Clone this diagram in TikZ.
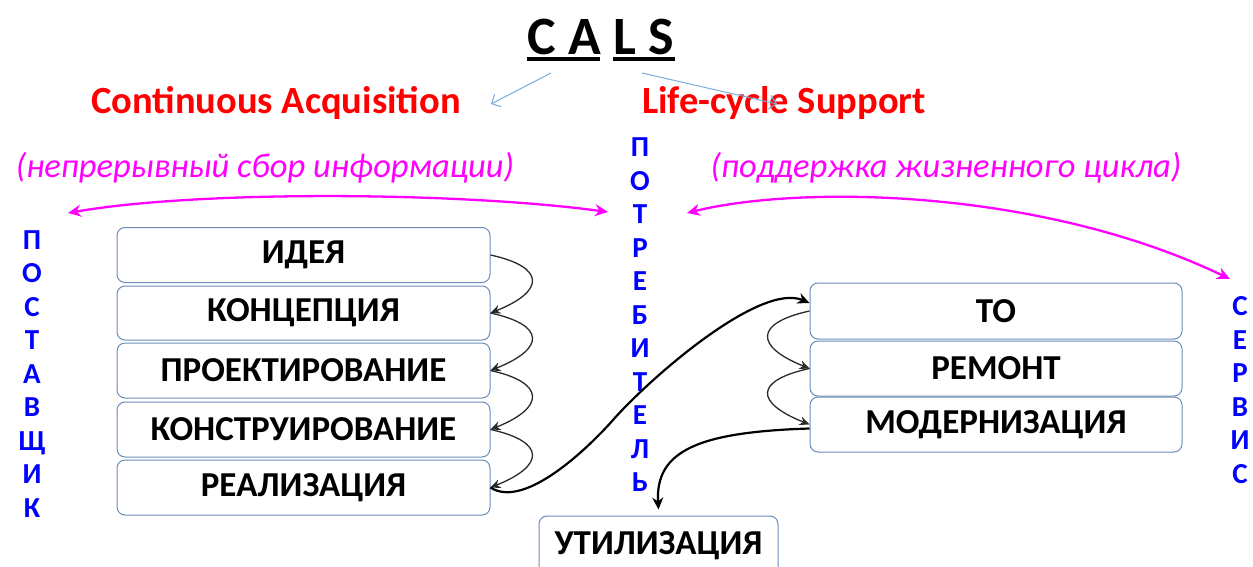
\documentclass[tikz,border=0pt]{standalone}
\usepackage{fontspec}
\setmainfont{Carlito}
\usetikzlibrary{arrows.meta}
\definecolor{boxblue}{HTML}{6A8CB8}
\definecolor{lightarrow}{HTML}{7AAADC}
\definecolor{mag}{HTML}{FF00FF}
\definecolor{vblue}{HTML}{0000FF}
\definecolor{tred}{HTML}{FF0000}
\definecolor{arrgray}{HTML}{2A2A2A}
\begin{document}
\begin{tikzpicture}[x=1pt,y=-1pt,
  stagebox/.style={draw=boxblue, line width=1pt, rounded corners=8pt, fill=white,
    minimum width=373pt, minimum height=55pt, inner sep=0pt,
    font=\fontsize{35}{37}\selectfont\bfseries},
  vword/.style={text=vblue, align=center, inner sep=0pt,
    font=\fontsize{29}{33.5}\selectfont\bfseries},
  title/.style={text=tred, inner sep=0pt, font=\fontsize{38.5}{40}\selectfont\bfseries},
  sub/.style={text=mag, inner sep=0pt, font=\fontsize{34.5}{36}\selectfont\itshape},
  steparr/.style={draw=arrgray, line width=1.3pt, -{Stealth[length=10pt,width=9pt]}},
  bigarr/.style={draw=black, line width=2.2pt, -{Stealth[length=12pt,width=11pt]}},
  magarr/.style={draw=mag, line width=2.3pt, {Stealth[length=13pt,width=12pt]}-{Stealth[length=13pt,width=12pt]}},
  blarr/.style={draw=lightarrow, line width=1pt, -{Straight Barb[length=7pt,width=14pt]}}
]
\useasboundingbox (0,0) rectangle (1253,567);

% title
\node[inner sep=0pt, font=\fontsize{54}{56}\selectfont\bfseries] (cals) at (601,37) {C A L S};
\draw[line width=4pt] (527,59) -- (600,59);
\draw[line width=4pt] (613,59) -- (675,59);
\coordinate (ca) at (551,73);
\coordinate (ls) at (642,73);

\node[title] (ca-t) at (276,103) {Continuous Acquisition};
\node[title] (ls-t) at (784,103) {Life-cycle Support};
\draw[blarr] (ca) -- (491,104);
\draw[blarr] (ls) -- (777,104);

\node[sub] (sub1) at (265,168) {(непрерывный сбор информации)};
\node[sub] (sub2) at (946,168) {(поддержка жизненного цикла)};

% magenta arrows
\coordinate (m1a) at (68,213);
\coordinate (m1b) at (608,212);
\coordinate (m2a) at (687,213);
\coordinate (m2b) at (1230,279);
\draw[magarr] (m1a) .. controls (200,190) and (460,192) .. (m1b);
\draw[magarr] (m2a) .. controls (800,185) and (1040,188) .. (m2b);

% vertical words
\node[vword] (post) at (32,374) {П\\О\\С\\Т\\А\\В\\Щ\\И\\К};
\node[vword] (potr) at (640,315) {П\\О\\Т\\Р\\Е\\Б\\И\\Т\\Е\\Л\\Ь};
\node[vword] (serv) at (1240,390) {С\\Е\\Р\\В\\И\\С};

% left stages
\node[stagebox] (idea) at (303.5,255) {ИДЕЯ};
\node[stagebox, minimum height=54pt] (konc) at (303.5,313) {КОНЦЕПЦИЯ};
\node[stagebox] (proekt) at (303.5,370.5) {ПРОЕКТИРОВАНИЕ};
\node[stagebox] (konstr) at (303.5,429.5) {КОНСТРУИРОВАНИЕ};
\node[stagebox] (real) at (303.5,487.5) {РЕАЛИЗАЦИЯ};

% right stages
\node[stagebox, minimum width=372pt, minimum height=56pt] (to) at (996,311) {ТО};
\node[stagebox, minimum width=372pt] (remont) at (996,368.5) {РЕМОНТ};
\node[stagebox, minimum width=372pt] (modern) at (996,424.5) {МОДЕРНИЗАЦИЯ};

% utilisation
\node[stagebox, minimum width=239pt, minimum height=60pt] (util) at (658.5,546) {УТИЛИЗАЦИЯ};

% step arrows left
\draw[steparr] (idea.east) .. controls +(55,12) and +(55,-22) .. (konc.east);
\draw[steparr] (konc.east) .. controls +(55,12) and +(55,-22) .. (proekt.east);
\draw[steparr] (proekt.east) .. controls +(55,12) and +(55,-22) .. (konstr.east);
\draw[steparr] (konstr.east) .. controls +(55,12) and +(55,-22) .. (real.east);

% step arrows right
\draw[steparr] (to.west) .. controls +(-55,12) and +(-55,-22) .. (remont.west);
\draw[steparr] (remont.west) .. controls +(-55,12) and +(-55,-22) .. (modern.west);

% big arrows
\coordinate (mid) at (613,420);
\draw[bigarr] (real.east) .. controls (525,510) and (590,446) .. (mid)
  .. controls (650,378) and (760,282) .. ([yshift=8pt]to.west);
\draw[bigarr] ([yshift=-4pt]modern.west) .. controls (700,432) and (655,450) .. ([yshift=6pt]util.north);
\end{tikzpicture}
\end{document}
